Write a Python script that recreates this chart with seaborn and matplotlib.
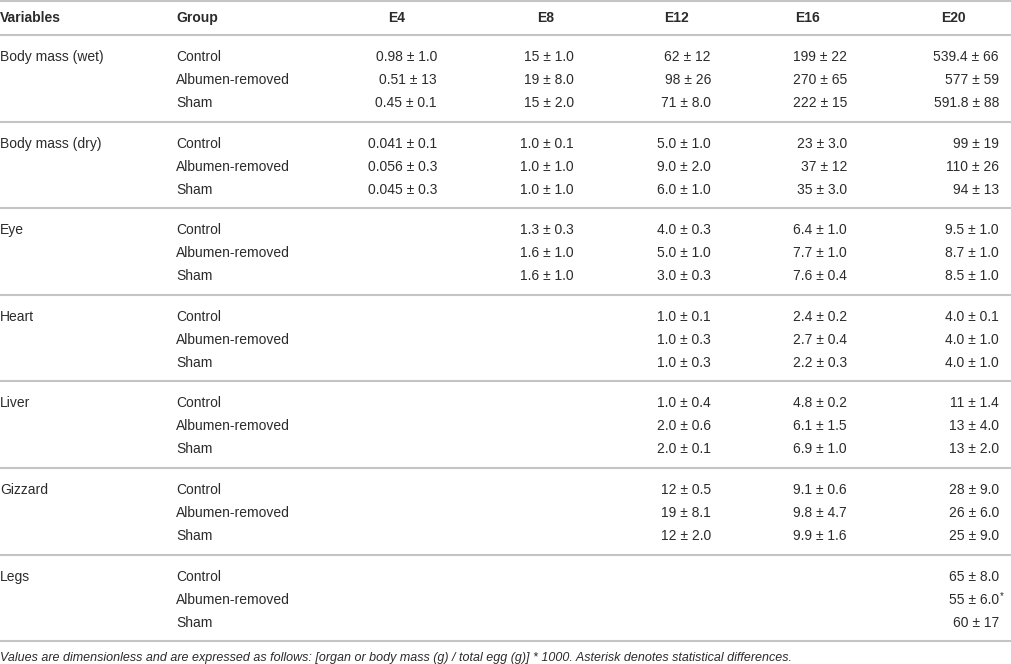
import seaborn as sns
import matplotlib.pyplot as plt

variables = ["Body mass (wet)", "Body mass (dry)", "Eye", "Heart", "Liver", "Gizzard", "Legs"]
groups = ["Control", "Albumen-removed", "Sham"]
columns = ["E4", "E8", "E12", "E16", "E20"]

e4 = ["0.98 ± 1.0", "0.51 ± 13", "0.45 ± 0.1",
      "0.041 ± 0.1", "0.056 ± 0.3", "0.045 ± 0.3"] + [""] * 15
e8 = ["15 ± 1.0", "19 ± 8.0", "15 ± 2.0",
      "1.0 ± 0.1", "1.0 ± 1.0", "1.0 ± 1.0",
      "1.3 ± 0.3", "1.6 ± 1.0", "1.6 ± 1.0"] + [""] * 12
e12 = ["62 ± 12", "98 ± 26", "71 ± 8.0",
       "5.0 ± 1.0", "9.0 ± 2.0", "6.0 ± 1.0",
       "4.0 ± 0.3", "5.0 ± 1.0", "3.0 ± 0.3",
       "1.0 ± 0.1", "1.0 ± 0.3", "1.0 ± 0.3",
       "1.0 ± 0.4", "2.0 ± 0.6", "2.0 ± 0.1",
       "12 ± 0.5", "19 ± 8.1", "12 ± 2.0"] + [""] * 3
e16 = ["199 ± 22", "270 ± 65", "222 ± 15",
       "23 ± 3.0", "37 ± 12", "35 ± 3.0",
       "6.4 ± 1.0", "7.7 ± 1.0", "7.6 ± 0.4",
       "2.4 ± 0.2", "2.7 ± 0.4", "2.2 ± 0.3",
       "4.8 ± 0.2", "6.1 ± 1.5", "6.9 ± 1.0",
       "9.1 ± 0.6", "9.8 ± 4.7", "9.9 ± 1.6"] + [""] * 3
e20 = ["539.4 ± 66", "577 ± 59", "591.8 ± 88",
       "99 ± 19", "110 ± 26", "94 ± 13",
       "9.5 ± 1.0", "8.7 ± 1.0", "8.5 ± 1.0",
       "4.0 ± 0.1", "4.0 ± 1.0", "4.0 ± 1.0",
       "11 ± 1.4", "13 ± 4.0", "13 ± 2.0",
       "28 ± 9.0", "26 ± 6.0", "25 ± 9.0",
       "65 ± 8.0", "55 ± 6.0*", "60 ± 17"]

footnote = ("Values are dimensionless and are expressed as follows: "
            "[organ or body mass (g) / total egg (g)] * 1000. "
            "Asterisk denotes statistical differences.")

sns.set_theme(style="white")
plt.rcParams["font.family"] = ["Liberation Sans", "DejaVu Sans"]

text_col = "#2b2b2b"
line_col = "#c4c4c4"
fs = 10

fig = plt.figure(figsize=(10.12, 6.64), dpi=100)
ax = fig.add_axes([0, 0, 1, 1])
ax.set_xlim(0, 1012)
ax.set_ylim(664, 0)
ax.axis("off")

# header
head_x = [397, 546, 676, 808, 953]
ax.text(0, 18, "Variables", ha="left", va="center", fontsize=fs, fontweight="bold", color=text_col)
ax.text(176, 18, "Group", ha="left", va="center", fontsize=fs, fontweight="bold", color=text_col)
for x, c in zip(head_x, columns):
    ax.text(x, 18, c, ha="center", va="center", fontsize=fs, fontweight="bold", color=text_col)

ax.axhline(1, color=line_col, lw=1.5)
ax.axhline(35, color=line_col, lw=1.5)

right_x = [437, 574, 711, 847, 999]
values = [e4, e8, e12, e16, e20]
block = 86.6
for i, var in enumerate(variables):
    top = 35 + i * block
    ax.text(0, top + 22, var, ha="left", va="center", fontsize=fs, color=text_col)
    for j, g in enumerate(groups):
        y = top + 22 + j * 23
        ax.text(176, y, g, ha="left", va="center", fontsize=fs, color=text_col)
        for x, col in zip(right_x, values):
            s = col[i * 3 + j]
            if not s:
                continue
            if s.endswith("*"):
                ax.text(x, y, s[:-1], ha="right", va="center", fontsize=fs, color=text_col)
                ax.text(x + 0.5, y - 4, "*", ha="left", va="center", fontsize=7, color=text_col)
            else:
                ax.text(x, y, s, ha="right", va="center", fontsize=fs, color=text_col)
    ax.axhline(top + block, color=line_col, lw=1.5)

ax.text(0, 658, footnote, ha="left", va="center", fontsize=9, style="italic", color=text_col)

fig.savefig("out.png", dpi=100)
